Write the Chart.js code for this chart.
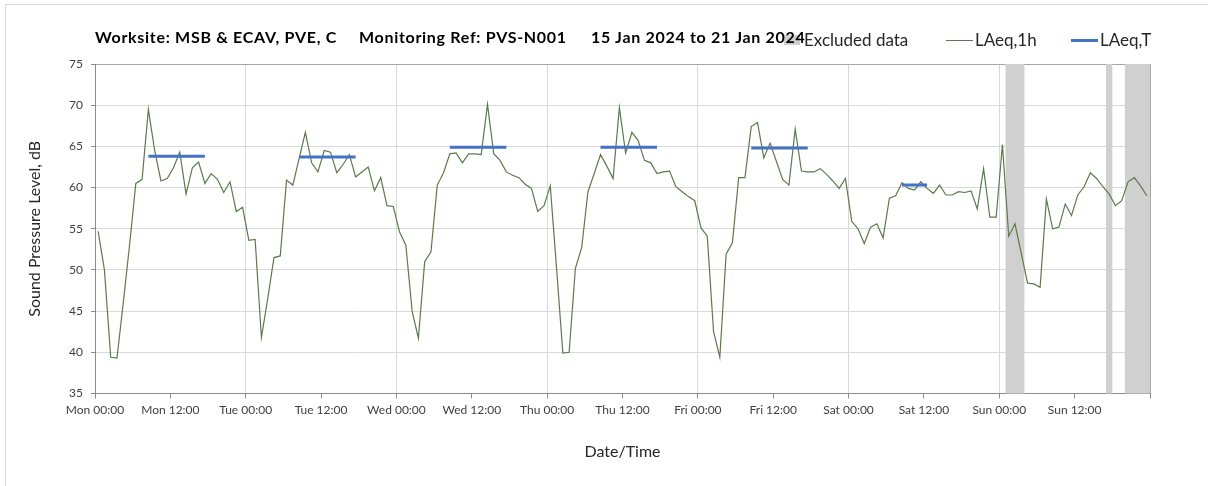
<!DOCTYPE html>
<html><head><meta charset="utf-8">
<script src="https://cdn.jsdelivr.net/npm/chart.js@4.4.1/dist/chart.umd.min.js"></script>
<style>
html,body{margin:0;padding:0;background:#fff;overflow:hidden;}
#wrap{position:relative;width:1208px;height:486px;overflow:hidden;}
#frame{position:absolute;left:5px;top:4px;width:1400px;height:700px;border:1px solid #d9d9d9;box-sizing:border-box;}
#c{position:absolute;left:0;top:0;}
.t{position:absolute;top:27px;font-family:Lato;font-weight:bold;font-size:16px;letter-spacing:0.7px;line-height:19px;color:#000;white-space:pre;z-index:3;}
.lg{position:absolute;top:29px;font-family:Lato;font-size:17px;line-height:21px;color:#262626;white-space:pre;z-index:3;}
.sw{position:absolute;z-index:2;}
</style></head>
<body>
<div id="wrap">
<div id="frame"></div>
<canvas id="c" width="1208" height="486"></canvas>
<div class="t" style="left:95px">Worksite: MSB &amp; ECAV, PVE, C</div>
<div class="t" style="left:359px">Monitoring Ref: PVS-N001</div>
<div class="t" style="left:591px">15 Jan 2024 to 21 Jan 2024</div>
<div class="sw" style="left:784px;top:35px;width:16px;height:10px;background:#d0d0d0"></div>
<div class="lg" style="left:804px">Excluded data</div>
<div class="sw" style="left:946px;top:40px;width:27px;height:1.3px;background:#5b7a4c"></div>
<div class="lg" style="left:975px">LAeq,1h</div>
<div class="sw" style="left:1071px;top:39px;width:27px;height:3px;background:#4472c4"></div>
<div class="lg" style="left:1100px">LAeq,T</div>
</div>
<script>
// LAeq,1h hourly values (hour-centred) per day
const monValues = [54.7,50.0,39.4,39.3,46.0,53.0,60.5,61.0,69.5,64.5,60.8,61.1,62.4,64.3,59.2,62.4,63.1,60.5,61.7,61.0,59.4,60.7,57.1,57.6];
const tueValues = [53.6,53.7,41.8,46.5,51.5,51.7,60.9,60.3,63.5,66.7,63.0,61.9,64.5,64.3,61.8,62.8,64.0,61.3,61.9,62.5,59.6,61.2,57.8,57.7];
const wedValues = [54.6,53.0,45.0,41.7,51.0,52.2,60.3,61.8,64.1,64.2,63.0,64.1,64.1,64.0,70.1,64.1,63.3,61.9,61.5,61.2,60.4,59.9,57.1,57.8];
const thuValues = [60.2,50.2,39.9,40.0,50.2,52.7,59.5,61.7,64.0,62.6,61.1,69.7,64.2,66.7,65.7,63.3,63.0,61.7,61.9,62.0,60.1,59.5,58.9,58.4];
const friValues = [55.1,54.1,42.5,39.4,51.9,53.3,61.2,61.2,67.4,67.9,63.6,65.4,63.2,61.0,60.3,67.1,62.0,61.9,61.9,62.3,61.6,60.8,59.9,61.1];
const satValues = [55.9,55.0,53.2,55.2,55.6,53.9,58.7,59.0,60.6,59.9,59.7,60.7,59.9,59.3,60.3,59.1,59.1,59.5,59.4,59.6,57.4,62.3,56.4,56.4];
const sunValues = [65.2,54.1,55.6,52.0,48.4,48.3,47.9,58.6,55.0,55.2,58.0,56.6,59.1,60.1,61.8,61.1,60.1,59.2,57.8,58.4,60.7,61.2,60.2,59.0];
const laeq1h = [].concat(monValues,tueValues,wedValues,thuValues,friValues,satValues,sunValues);

// LAeq,T periods (hour index of first and last hourly value) and levels
const periodStart = [8,32,56,80,104,128];
const periodEnd   = [17,41,65,89,113,132];
const periodLevel = [63.8,63.7,64.9,64.9,64.8,60.3];

// Excluded data periods (hours from Mon 00:00)
const exclStart = [145,161,164];
const exclEnd   = [148,162,168];

// x tick labels every 12 hours
const xTickLabels = ['Mon 00:00','Mon 12:00','Tue 00:00','Tue 12:00','Wed 00:00','Wed 12:00','Thu 00:00','Thu 12:00','Fri 00:00','Fri 12:00','Sat 00:00','Sat 12:00','Sun 00:00','Sun 12:00',''];

const datasets = [{
  label:'LAeq,1h',
  data: laeq1h.map((v,i)=>({x:i+0.5,y:v})),
  borderColor:'#5b7a4c', borderWidth:1.2, pointRadius:0, tension:0, order:2
}];
periodStart.forEach((s,i)=>{
  datasets.push({
    label:'LAeq,T',
    data:[{x:s+0.5,y:periodLevel[i]},{x:periodEnd[i]+0.5,y:periodLevel[i]}],
    borderColor:'#4472c4', borderWidth:3, pointRadius:0, order:1
  });
});

const bandsPlugin = {
  id:'bands',
  beforeDatasetsDraw(chart){
    const {ctx, chartArea:a, scales:{x}} = chart;
    ctx.save();
    ctx.fillStyle = '#d0d0d0';
    exclStart.forEach((s,i)=>{
      const x0 = x.getPixelForValue(s), x1 = x.getPixelForValue(exclEnd[i]);
      ctx.fillRect(x0, a.top, x1-x0, a.bottom-a.top);
    });
    ctx.restore();
  }
};

new Chart(document.getElementById('c'), {
  type:'line',
  data:{datasets},
  options:{
    responsive:false, animation:false, devicePixelRatio:1,
    layout:{padding:{left:0,right:58,top:64,bottom:0}},
    plugins:{legend:{display:false}, title:{display:false}, tooltip:{enabled:false}},
    scales:{
      x:{
        type:'linear', min:0, max:168,
        ticks:{stepSize:12, autoSkip:false, maxRotation:0, padding:4,
          callback:(v)=> xTickLabels[Math.round(v/12)] ?? '',
          font:{family:'Lato', size:12}, color:'#404040'},
        grid:{
          color:(c)=> (c.tick && c.tick.value % 24 === 0) ? (c.tick.value === 168 ? '#a6a6a6' : '#d9d9d9') : 'rgba(0,0,0,0)',
          tickColor:'#8c8c8c', tickLength:5, lineWidth:1
        },
        border:{color:'#8c8c8c', width:1},
        title:{display:true, text:'Date/Time', align:'center', font:{family:'Lato', size:16}, color:'#262626', padding:{top:0,bottom:25}},
        afterFit:(s)=>{ s.height = 92.5; }
      },
      y:{
        min:35, max:75,
        ticks:{stepSize:5, padding:8, font:{family:'Lato', size:12}, color:'#404040'},
        grid:{
          color:(c)=> (c.tick && c.tick.value === 75) ? '#a6a6a6' : '#d9d9d9',
          tickColor:'#8c8c8c', tickLength:4, lineWidth:1
        },
        border:{color:'#8c8c8c', width:1},
        title:{display:true, text:'Sound Pressure Level, dB', font:{family:'Lato', size:16}, color:'#262626', padding:{top:25,bottom:0}},
        afterFit:(s)=>{ s.width = 95; }
      }
    }
  },
  plugins:[bandsPlugin]
});
</script>
</body></html>
